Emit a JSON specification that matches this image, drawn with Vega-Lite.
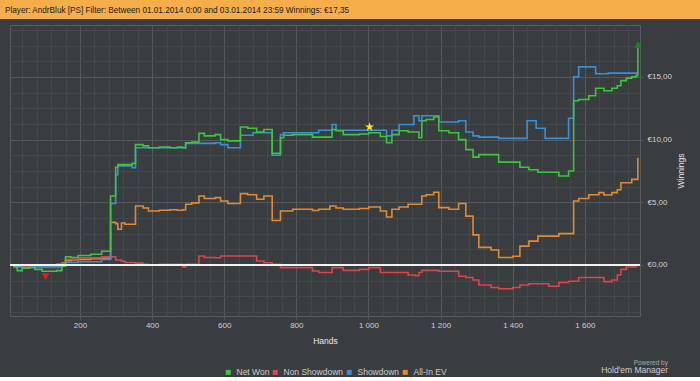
{
  "$schema": "https://vega.github.io/schema/vega-lite/v6.json",
  "background": "#3a3d40",
  "padding": 0,
  "spacing": 5,
  "config": {
    "view": {"stroke": "#5a5d60"},
    "font": "Liberation Sans",
    "axis": {"labelOverlap": false, "labelFlush": false}
  },
  "datasets": {
    "netwon": [
      {"h":6,"v":0},{"h":17,"v":-0.15},{"h":26,"v":-0.45},{"h":40,"v":-0.25},{"h":60,"v":-0.2},{"h":75,"v":-0.35},{"h":95,"v":-0.5},{"h":135,"v":-0.45},{"h":150,"v":-0.1},{"h":160,"v":0.65},{"h":175,"v":0.6},{"h":195,"v":0.75},{"h":230,"v":0.85},{"h":260,"v":1.1},{"h":285,"v":5.5},{"h":299,"v":7.8},{"h":305,"v":8.0},{"h":345,"v":8.1},{"h":354,"v":9.6},{"h":375,"v":9.5},{"h":390,"v":9.35},{"h":420,"v":9.4},{"h":450,"v":9.35},{"h":470,"v":9.4},{"h":485,"v":9.35},{"h":493,"v":9.75},{"h":510,"v":9.8},{"h":530,"v":10.5},{"h":545,"v":10.3},{"h":575,"v":10.4},{"h":590,"v":10.0},{"h":610,"v":9.9},{"h":645,"v":11.0},{"h":665,"v":10.9},{"h":690,"v":10.6},{"h":710,"v":10.8},{"h":733,"v":8.9},{"h":756,"v":10.15},{"h":765,"v":10.35},{"h":790,"v":10.4},{"h":845,"v":10.2},{"h":899,"v":10.8},{"h":910,"v":10.7},{"h":930,"v":10.4},{"h":975,"v":10.45},{"h":1001,"v":10.55},{"h":1033,"v":10.25},{"h":1050,"v":9.75},{"h":1065,"v":10.4},{"h":1085,"v":10.7},{"h":1110,"v":10.6},{"h":1140,"v":10.15},{"h":1148,"v":11.5},{"h":1160,"v":11.6},{"h":1181,"v":11.8},{"h":1195,"v":10.7},{"h":1223,"v":10.55},{"h":1250,"v":10.0},{"h":1270,"v":9.2},{"h":1290,"v":8.6},{"h":1306,"v":8.8},{"h":1361,"v":8.2},{"h":1420,"v":7.8},{"h":1445,"v":7.6},{"h":1470,"v":7.4},{"h":1528,"v":7.1},{"h":1555,"v":7.5},{"h":1569,"v":13.1},{"h":1583,"v":13.2},{"h":1611,"v":13.5},{"h":1630,"v":14.1},{"h":1653,"v":13.9},{"h":1675,"v":14.1},{"h":1690,"v":14.3},{"h":1700,"v":14.7},{"h":1715,"v":14.9},{"h":1730,"v":15.0},{"h":1742,"v":15.1},{"h":1747,"v":17.35}
    ],
    "showdown": [
      {"h":6,"v":0},{"h":17,"v":-0.05},{"h":26,"v":-0.15},{"h":40,"v":-0.25},{"h":60,"v":-0.1},{"h":150,"v":0.0},{"h":160,"v":0.2},{"h":195,"v":0.26},{"h":260,"v":0.45},{"h":285,"v":4.9},{"h":299,"v":7.2},{"h":305,"v":7.9},{"h":345,"v":7.75},{"h":354,"v":9.35},{"h":493,"v":9.7},{"h":575,"v":9.75},{"h":590,"v":9.6},{"h":610,"v":9.35},{"h":645,"v":10.35},{"h":680,"v":10.55},{"h":733,"v":8.75},{"h":756,"v":10.4},{"h":765,"v":10.55},{"h":862,"v":10.75},{"h":899,"v":11.2},{"h":910,"v":10.75},{"h":1050,"v":10.3},{"h":1065,"v":10.75},{"h":1085,"v":11.2},{"h":1126,"v":11.9},{"h":1140,"v":11.5},{"h":1148,"v":11.9},{"h":1195,"v":11.4},{"h":1250,"v":11.5},{"h":1270,"v":10.6},{"h":1290,"v":10.3},{"h":1306,"v":10.2},{"h":1361,"v":10.1},{"h":1440,"v":11.5},{"h":1465,"v":10.9},{"h":1490,"v":10.1},{"h":1555,"v":11.7},{"h":1569,"v":15.0},{"h":1583,"v":15.8},{"h":1630,"v":15.25},{"h":1665,"v":15.3},{"h":1747,"v":15.3}
    ],
    "nonshowdown": [
      {"h":6,"v":0},{"h":17,"v":-0.1},{"h":26,"v":-0.15},{"h":60,"v":-0.2},{"h":150,"v":0.1},{"h":160,"v":0.45},{"h":195,"v":0.58},{"h":260,"v":0.66},{"h":299,"v":0.4},{"h":315,"v":0.3},{"h":325,"v":0.2},{"h":354,"v":0.15},{"h":375,"v":0.05},{"h":390,"v":0.0},{"h":420,"v":0.05},{"h":485,"v":-0.15},{"h":493,"v":0.05},{"h":530,"v":0.72},{"h":545,"v":0.6},{"h":575,"v":0.58},{"h":590,"v":0.72},{"h":690,"v":0.32},{"h":710,"v":0.18},{"h":733,"v":0.05},{"h":756,"v":-0.21},{"h":845,"v":-0.48},{"h":862,"v":-0.6},{"h":899,"v":-0.21},{"h":930,"v":-0.43},{"h":975,"v":-0.35},{"h":1001,"v":-0.21},{"h":1033,"v":-0.6},{"h":1110,"v":-0.8},{"h":1130,"v":-0.85},{"h":1140,"v":-0.6},{"h":1148,"v":-0.43},{"h":1195,"v":-0.5},{"h":1250,"v":-0.9},{"h":1270,"v":-1.0},{"h":1290,"v":-1.2},{"h":1306,"v":-1.6},{"h":1340,"v":-1.8},{"h":1361,"v":-1.9},{"h":1400,"v":-1.8},{"h":1420,"v":-1.6},{"h":1445,"v":-1.5},{"h":1500,"v":-1.7},{"h":1528,"v":-1.4},{"h":1555,"v":-1.3},{"h":1583,"v":-1.0},{"h":1639,"v":-1.0},{"h":1653,"v":-1.33},{"h":1675,"v":-1.2},{"h":1690,"v":-0.8},{"h":1700,"v":-0.35},{"h":1715,"v":-0.16},{"h":1742,"v":0.0},{"h":1747,"v":0.0}
    ],
    "allinev": [
      {"h":6,"v":0},{"h":17,"v":-0.05},{"h":26,"v":-0.15},{"h":40,"v":-0.2},{"h":60,"v":-0.1},{"h":75,"v":-0.05},{"h":95,"v":0.0},{"h":135,"v":0.05},{"h":150,"v":0.15},{"h":160,"v":0.35},{"h":175,"v":0.4},{"h":195,"v":0.45},{"h":230,"v":0.5},{"h":260,"v":0.55},{"h":285,"v":3.4},{"h":299,"v":3.3},{"h":305,"v":2.85},{"h":315,"v":3.35},{"h":325,"v":3.25},{"h":354,"v":4.7},{"h":375,"v":4.55},{"h":390,"v":4.3},{"h":420,"v":4.36},{"h":450,"v":4.4},{"h":470,"v":4.36},{"h":485,"v":4.4},{"h":493,"v":4.84},{"h":510,"v":4.95},{"h":530,"v":5.5},{"h":545,"v":5.3},{"h":575,"v":5.37},{"h":590,"v":5.1},{"h":610,"v":4.9},{"h":645,"v":5.69},{"h":665,"v":5.6},{"h":690,"v":5.24},{"h":710,"v":5.5},{"h":733,"v":3.55},{"h":756,"v":4.3},{"h":790,"v":4.44},{"h":845,"v":4.35},{"h":862,"v":4.44},{"h":893,"v":4.7},{"h":910,"v":4.55},{"h":930,"v":4.44},{"h":975,"v":4.5},{"h":1001,"v":4.62},{"h":1033,"v":4.3},{"h":1050,"v":3.83},{"h":1065,"v":4.44},{"h":1085,"v":4.62},{"h":1110,"v":4.84},{"h":1130,"v":4.84},{"h":1148,"v":5.5},{"h":1160,"v":5.6},{"h":1181,"v":5.8},{"h":1195,"v":4.57},{"h":1223,"v":4.45},{"h":1250,"v":4.9},{"h":1270,"v":3.9},{"h":1290,"v":2.4},{"h":1306,"v":1.4},{"h":1340,"v":1.2},{"h":1361,"v":0.6},{"h":1400,"v":0.7},{"h":1420,"v":1.5},{"h":1445,"v":1.9},{"h":1470,"v":2.3},{"h":1528,"v":2.5},{"h":1569,"v":5.1},{"h":1583,"v":5.3},{"h":1611,"v":5.6},{"h":1639,"v":5.77},{"h":1653,"v":5.58},{"h":1675,"v":5.77},{"h":1690,"v":6.0},{"h":1700,"v":6.56},{"h":1730,"v":6.83},{"h":1747,"v":8.56}
    ],
    "markers": [
      {"kind":"best","h":1003,"v":11.0},
      {"kind":"low","h":105,"v":-0.93},
      {"kind":"high","h":1748,"v":17.6}
    ]
  },
  "vconcat": [
    {
      "width": 700,
      "height": 19,
      "view": {"fill": "#f5ae4a", "stroke": null},
      "data": {"values": []},
      "mark": "point",
      "title": {
        "text": "Player: AndrBluk [PS]  Filter: Between 01.01.2014 0:00 and 03.01.2014 23:59  Winnings: €17,35",
        "anchor": "start",
        "orient": "top",
        "offset": -15,
        "dx": 5,
        "font": "Liberation Sans",
        "fontSize": 8.2,
        "fontWeight": "normal",
        "color": "#202020"
      }
    },
    {
      "spacing": 0,
      "hconcat": [
        {
          "width": 6,
          "height": 291,
          "view": {"stroke": null},
          "data": {"values": []},
          "mark": "point"
        },
        {
          "width": 630,
          "height": 291,
          "title": {
            "text": "Powered by",
            "subtitle": "Hold'em Manager",
            "orient": "bottom",
            "anchor": "end",
            "frame": "bounds",
            "offset": 15,
            "dx": -17,
            "font": "Liberation Sans",
            "fontSize": 6.5,
            "fontWeight": "normal",
            "color": "#a8a8a8",
            "subtitleFont": "Liberation Sans",
            "subtitleFontSize": 8.5,
            "subtitleColor": "#d0d0d0",
            "subtitlePadding": 0
          },
          "resolve": {"axis": {"x": "independent", "y": "independent"}},
          "layer": [
            {
              "encoding": {
                "x": {
                  "field": "h", "type": "quantitative",
                  "scale": {"domain": [6, 1753], "nice": false, "zero": false},
                  "axis": {
                    "values": [200,400,600,800,1000,1200,1400,1600],
                    "labelExpr": "replace(format(datum.value, ','), ',', ' ')",
                    "gridColor": "#56595c",
                    "tickColor": "#56595c",
                    "tickSize": 3,
                    "domain": false,
                    "labelOverlap": false,
                    "labelFlush": false,
                    "labelColor": "#d0d0d0",
                    "labelFontSize": 8,
                    "labelPadding": 2,
                    "title": "Hands",
                    "titleColor": "#e8e8e8",
                    "titleFontSize": 8.5,
                    "titleFontWeight": "normal",
                    "titlePadding": 7
                  }
                },
                "y": {
                  "field": "v", "type": "quantitative",
                  "scale": {"domain": [-4.07, 19.14], "nice": false, "zero": false},
                  "axis": {
                    "orient": "right",
                    "values": [0, 5, 10, 15],
                    "labelExpr": "'€' + replace(format(datum.value, '.2f'), '.', ',')",
                    "gridColor": "#56595c",
                    "tickColor": "#56595c",
                    "tickSize": 3,
                    "domain": false,
                    "labelOverlap": false,
                    "labelFlush": false,
                    "labelColor": "#d0d0d0",
                    "labelFontSize": 8,
                    "labelPadding": 4,
                    "title": "Winnings",
                    "titleAngle": 270,
                    "titleColor": "#e8e8e8",
                    "titleFontSize": 8.5,
                    "titleFontWeight": "normal",
                    "titlePadding": 14
                  }
                }
              },
              "layer": [
                {
                  "data": {"name": "allinev"},
                  "mark": {"type": "line", "interpolate": "step-after", "strokeWidth": 1.6},
                  "encoding": {
                    "color": {
                      "datum": "All-In EV",
                      "type": "nominal",
                      "scale": {
                        "domain": ["Net Won", "Non Showdown", "Showdown", "All-In EV"],
                        "range": ["#3cc63c", "#d9464b", "#3b8fd4", "#e08a35"]
                      },
                      "legend": {
                        "title": null,
                        "orient": "none",
                        "direction": "horizontal",
                        "legendX": 224,
                        "legendY": 368,
                        "symbolType": "square",
                        "symbolSize": 25,
                        "symbolStrokeWidth": 0,
                        "labelColor": "#cccccc",
                        "labelFontSize": 8.5,
                        "labelOffset": 4,
                        "columnPadding": 1,
                        "encode": {
                          "symbols": {"update": {"fill": {"scale": "color", "field": "value"}, "opacity": {"value": 1}}}
                        }
                      }
                    }
                  }
                },
                {
                  "data": {"name": "nonshowdown"},
                  "mark": {"type": "line", "interpolate": "step-after", "strokeWidth": 1.6},
                  "encoding": {"color": {"datum": "Non Showdown", "type": "nominal"}}
                },
                {
                  "data": {"name": "showdown"},
                  "mark": {"type": "line", "interpolate": "step-after", "strokeWidth": 1.6},
                  "encoding": {"color": {"datum": "Showdown", "type": "nominal"}}
                },
                {
                  "data": {"name": "netwon"},
                  "mark": {"type": "line", "interpolate": "step-after", "strokeWidth": 1.6},
                  "encoding": {"color": {"datum": "Net Won", "type": "nominal"}}
                }
              ]
            },
            {
              "data": {"values": [{"z": 0}]},
              "mark": {"type": "rule", "color": "#f2f2f2", "strokeWidth": 2},
              "encoding": {"y": {"field": "z", "type": "quantitative", "axis": null}}
            },
            {
              "data": {"name": "markers"},
              "encoding": {
                "x": {
                  "field": "h", "type": "quantitative",
                  "axis": {
                    "orient": "top",
                    "values": [40,80,120,160,240,280,320,360,440,480,520,560,640,680,720,760,840,880,920,960,1040,1080,1120,1160,1240,1280,1320,1360,1440,1480,1520,1560,1640,1680,1720],
                    "labels": false, "ticks": false, "domain": false, "title": null,
                    "grid": true, "gridColor": "#45484b"
                  }
                },
                "y": {
                  "field": "v", "type": "quantitative",
                  "axis": {
                    "orient": "left",
                    "values": [-3.75,-2.5,-1.25,1.25,2.5,3.75,6.25,7.5,8.75,11.25,12.5,13.75,16.25,17.5,18.75],
                    "labels": false, "ticks": false, "domain": false, "title": null,
                    "grid": true, "gridColor": "#45484b"
                  }
                }
              },
              "layer": [
                {
                  "transform": [{"filter": "datum.kind === 'best'"}],
                  "mark": {"type": "point", "filled": true, "color": "#ffee00", "opacity": 1, "size": 90, "shape": "M0,-1L0.2245,-0.309L0.951,-0.309L0.363,0.118L0.588,0.809L0,0.382L-0.588,0.809L-0.363,0.118L-0.951,-0.309L-0.2245,-0.309Z"}
                },
                {
                  "transform": [{"filter": "datum.kind === 'low'"}],
                  "mark": {"type": "point", "filled": true, "color": "#e81c1c", "opacity": 1, "size": 60, "shape": "triangle-down"}
                },
                {
                  "transform": [{"filter": "datum.kind === 'high'"}],
                  "mark": {"type": "point", "filled": true, "color": "#1f7f24", "opacity": 1, "size": 60, "shape": "triangle-up"}
                }
              ]
            }
          ]
        }
      ]
    }
  ]
}
